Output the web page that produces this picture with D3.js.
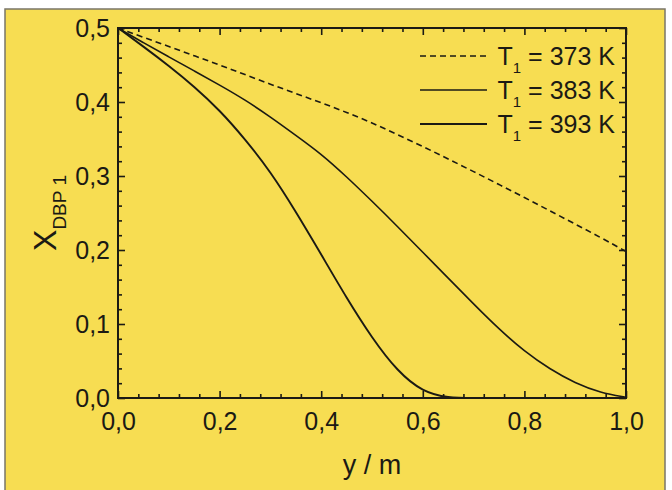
<!DOCTYPE html>
<html>
<head>
<meta charset="utf-8">
<script src="https://cdn.jsdelivr.net/npm/d3@7"></script>
<style>
  html, body { margin: 0; padding: 0; background: #ffffff; }
  svg { display: block; }
  text { font-family: "Liberation Sans", Arial, Helvetica, sans-serif; fill: #1b1a14; }
</style>
</head>
<body>
<svg id="chart" width="672" height="490"></svg>
<script>
// ---- data ----
const positions = [0, 0.05, 0.1, 0.15, 0.2, 0.25, 0.3, 0.35, 0.4, 0.45, 0.5,
                   0.55, 0.6, 0.65, 0.7, 0.75, 0.8, 0.85, 0.9, 0.95, 1.0];
const x373 = [0.500, 0.4875, 0.475, 0.4625, 0.450, 0.437, 0.424, 0.4115, 0.399, 0.386, 0.372,
              0.356, 0.340, 0.323, 0.306, 0.2885, 0.271, 0.253, 0.235, 0.217, 0.198];
const x383 = [0.500, 0.480, 0.461, 0.442, 0.423, 0.403, 0.380, 0.355, 0.330, 0.299, 0.266,
              0.232, 0.197, 0.162, 0.127, 0.093, 0.063, 0.039, 0.020, 0.007, 0.001];
const x393 = [0.500, 0.475, 0.449, 0.421, 0.389, 0.350, 0.306, 0.252, 0.194, 0.135, 0.081,
              0.036, 0.008, 0.000, 0.000, 0.000, 0.000, 0.000, 0.000, 0.000, 0.000];
const seriesNames = ["373 K", "383 K", "393 K"];
const xMajorTicks = [0, 0.2, 0.4, 0.6, 0.8, 1.0];
const yMajorTicks = [0, 0.1, 0.2, 0.3, 0.4, 0.5];
const xTitle = "y / m";
const yTitleMain = "X";
const yTitleSub = "DBP 1";

// ---- layout ----
const svg = d3.select("#chart");
const L = 118, R = 626, T = 28, B = 398;
const x = d3.scaleLinear().domain([0, 1]).range([L, R]);
const y = d3.scaleLinear().domain([0, 0.5]).range([B, T]);
const fmt = d => d3.format(".1f")(d).replace(".", ",");
const ink = "#1b1a14";

// background panel
svg.append("rect").attr("x", 5).attr("y", 9).attr("width", 660).attr("height", 485)
  .attr("fill", "#f7dd52").attr("stroke", "#7a7668").attr("stroke-width", 1.5);

// minor ticks
const xMinor = d3.range(0, 1.0001, 0.04).filter(v => !xMajorTicks.some(m => Math.abs(m - v) < 1e-6));
const yMinor = d3.range(0, 0.5001, 0.02).filter(v => !yMajorTicks.some(m => Math.abs(m - v) < 1e-6));

function styleAxis(g) {
  g.select(".domain").remove();
  g.selectAll(".tick line").attr("stroke", ink).attr("stroke-width", 1.6);
  g.selectAll("text").attr("font-size", 25).style("fill", ink);
}

// bottom
svg.append("g").attr("transform", `translate(0,${B})`)
  .call(d3.axisBottom(x).tickValues(xMajorTicks).tickFormat(fmt).tickSize(-7).tickPadding(14).tickSizeOuter(0))
  .call(styleAxis);
svg.append("g").attr("transform", `translate(0,${B})`)
  .call(d3.axisBottom(x).tickValues(xMinor).tickFormat("").tickSize(-4).tickSizeOuter(0))
  .call(styleAxis);
// top
svg.append("g").attr("transform", `translate(0,${T})`)
  .call(d3.axisTop(x).tickValues(xMajorTicks).tickFormat("").tickSize(-7).tickSizeOuter(0))
  .call(styleAxis);
svg.append("g").attr("transform", `translate(0,${T})`)
  .call(d3.axisTop(x).tickValues(xMinor).tickFormat("").tickSize(-4).tickSizeOuter(0))
  .call(styleAxis);
// left
svg.append("g").attr("transform", `translate(${L},0)`)
  .call(d3.axisLeft(y).tickValues(yMajorTicks).tickFormat(fmt).tickSize(-7).tickPadding(8).tickSizeOuter(0))
  .call(styleAxis);
svg.append("g").attr("transform", `translate(${L},0)`)
  .call(d3.axisLeft(y).tickValues(yMinor).tickFormat("").tickSize(-4).tickSizeOuter(0))
  .call(styleAxis);
// right
svg.append("g").attr("transform", `translate(${R},0)`)
  .call(d3.axisRight(y).tickValues(yMajorTicks).tickFormat("").tickSize(-7).tickSizeOuter(0))
  .call(styleAxis);
svg.append("g").attr("transform", `translate(${R},0)`)
  .call(d3.axisRight(y).tickValues(yMinor).tickFormat("").tickSize(-4).tickSizeOuter(0))
  .call(styleAxis);

// curves
const styles = [
  { data: x373, width: 1.6, dash: "6,4" },
  { data: x383, width: 1.6, dash: null },
  { data: x393, width: 1.9, dash: null }
];
const line = d3.line().x((d, i) => x(positions[i])).y(d => y(d)).curve(d3.curveBasis);
const plot = svg.append("g");
styles.forEach(s => {
  plot.append("path").datum(s.data).attr("d", line)
    .attr("fill", "none").attr("stroke", ink).attr("stroke-width", s.width)
    .attr("stroke-dasharray", s.dash).attr("stroke-linejoin", "round");
});

// frame
svg.append("rect").attr("x", L).attr("y", T).attr("width", R - L).attr("height", B - T)
  .attr("fill", "none").attr("stroke", ink).attr("stroke-width", 2);

// legend
const legRowY = [56, 90, 124];
styles.forEach((s, i) => {
  const ly = legRowY[i];
  svg.append("line").attr("x1", 420).attr("x2", 487).attr("y1", ly).attr("y2", ly)
    .attr("stroke", ink).attr("stroke-width", s.width).attr("stroke-dasharray", s.dash);
  const t = svg.append("text").attr("x", 615).attr("y", ly + 9).attr("text-anchor", "end").attr("font-size", 25);
  t.append("tspan").text("T");
  t.append("tspan").attr("font-size", 15).attr("dy", 8).text("1");
  t.append("tspan").attr("dy", -8).text(" = " + seriesNames[i]);
});

// axis titles
svg.append("text").attr("x", (L + R) / 2).attr("y", 474).attr("text-anchor", "middle")
  .attr("font-size", 27).text(xTitle);
const yt = svg.append("text").attr("transform", `translate(56,${(T + B) / 2}) rotate(-90)`)
  .attr("text-anchor", "middle").attr("font-size", 32);
yt.append("tspan").text(yTitleMain);
yt.append("tspan").attr("font-size", 19).attr("dy", 10).text(yTitleSub);
</script>
</body>
</html>
